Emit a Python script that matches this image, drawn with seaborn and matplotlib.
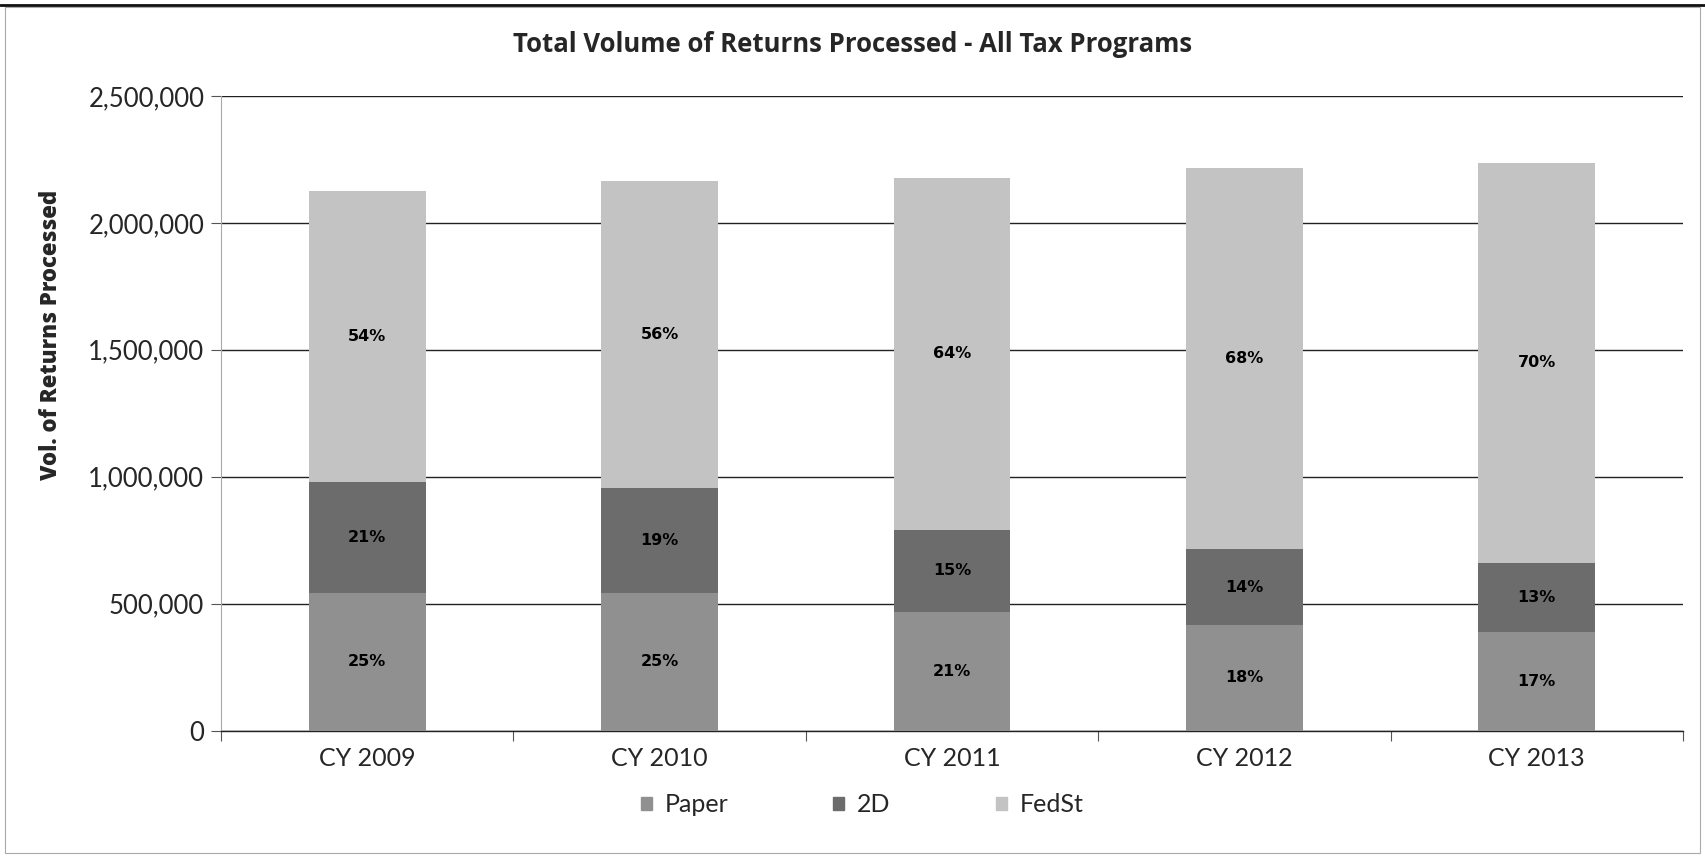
import matplotlib
matplotlib.use("Agg")
import matplotlib.pyplot as plt
import matplotlib.patches as mpatches
from matplotlib.ticker import FuncFormatter, FixedLocator
import seaborn as sns
import pandas as pd

# ---- data ----
years = ["CY 2009", "CY 2010", "CY 2011", "CY 2012", "CY 2013"]
paper = [544000, 544000, 467000, 415000, 390000]
twod = [436000, 411000, 325000, 300000, 272000]
fedst = [1147000, 1211000, 1383000, 1502000, 1573000]
pct_paper = ["25%", "25%", "21%", "18%", "17%"]
pct_twod = ["21%", "19%", "15%", "14%", "13%"]
pct_fedst = ["54%", "56%", "64%", "68%", "70%"]
series = ["Paper", "2D", "FedSt"]
colors = {"Paper": "#909090", "2D": "#6c6c6c", "FedSt": "#c3c3c3"}

df = pd.DataFrame({"year": years, "Paper": paper, "2D": twod, "FedSt": fedst})
df["c_paper"] = df["Paper"]
df["c_twod"] = df["Paper"] + df["2D"]
df["c_total"] = df["c_twod"] + df["FedSt"]

sns.set_style("white")
plt.rcParams["font.family"] = ["Lato", "DejaVu Sans"]

W, H = 1705, 856
fig = plt.figure(figsize=(W / 100, H / 100), dpi=100)
ax = fig.add_axes([0.1296, 0.1464, 0.9871 - 0.1296, 0.888 - 0.1464])

for col, name in [("c_total", "FedSt"), ("c_twod", "2D"), ("c_paper", "Paper")]:
    sns.barplot(data=df, x="year", y=col, order=years, color=colors[name],
                width=0.4, saturation=1, ax=ax, zorder=3, linewidth=0)

# percent labels at centre of each segment
for i in range(len(years)):
    segs = [(0, df["c_paper"][i], pct_paper[i]),
            (df["c_paper"][i], df["c_twod"][i], pct_twod[i]),
            (df["c_twod"][i], df["c_total"][i], pct_fedst[i])]
    for lo, hi, txt in segs:
        ax.text(i, (lo + hi) / 2, txt, ha="center", va="center",
                fontsize=11.5, fontweight="bold", family="DejaVu Sans",
                color="black", zorder=5)

ax.set_xlim(-0.5, 4.5)
ax.set_ylim(0, 2500000)
ax.set_yticks([0, 500000, 1000000, 1500000, 2000000, 2500000])
ax.yaxis.set_major_formatter(FuncFormatter(lambda v, p: f"{int(v):,}"))
ax.grid(axis="y", color="#222222", linewidth=1.0, zorder=0)
ax.set_axisbelow(True)
for s in ["top", "right"]:
    ax.spines[s].set_visible(False)
ax.spines["left"].set_color("#aaaaaa")
ax.spines["left"].set_linewidth(0.8)
ax.spines["bottom"].set_color("#222222")
ax.spines["bottom"].set_linewidth(1.0)

ax.xaxis.set_minor_locator(FixedLocator([-0.5, 0.5, 1.5, 2.5, 3.5, 4.5]))
ax.tick_params(axis="x", which="minor", length=7, width=0.8, color="#555555",
               direction="out", bottom=True)
ax.tick_params(axis="x", which="major", length=0, labelsize=18, pad=12)
ax.tick_params(axis="y", which="major", length=7, width=0.8, color="#555555",
               direction="out", left=True, labelsize=18.5, pad=5)
ax.set_xlabel("")
ax.set_ylabel("Vol. of Returns Processed", fontsize=16, fontweight="heavy",
              family=["Open Sans", "DejaVu Sans"])
ax.yaxis.set_label_coords(-0.108, 0.624)

fig.text(0.5, 1 - 45 / H, "Total Volume of Returns Processed - All Tax Programs",
         ha="center", va="center", fontsize=18.5, fontweight="bold",
         family=["Open Sans", "DejaVu Sans"])

# legend entries (one legend per entry to match the reference spacing)
legend_x = [641, 833, 996]  # left edge of each legend marker, in pixels
for s, lx in zip(series, legend_x):
    leg = fig.legend(handles=[mpatches.Patch(color=colors[s], label=s)],
                     loc="center left", bbox_to_anchor=(lx / W, 1 - 805 / H),
                     frameon=False, fontsize=18, handlelength=0.45,
                     handleheight=0.45, handletextpad=0.5, borderpad=0,
                     borderaxespad=0)

# chart border
fig.patches.append(mpatches.Rectangle((0.003, 0.003), 0.994, 0.989,
                                      transform=fig.transFigure, fill=False,
                                      edgecolor="#aaaaaa", linewidth=0.8))
fig.lines.append(plt.Line2D([0.0, 1.0], [0.994, 0.994], transform=fig.transFigure,
                            color="#111111", linewidth=2))

fig.savefig("out.png", dpi=100)
